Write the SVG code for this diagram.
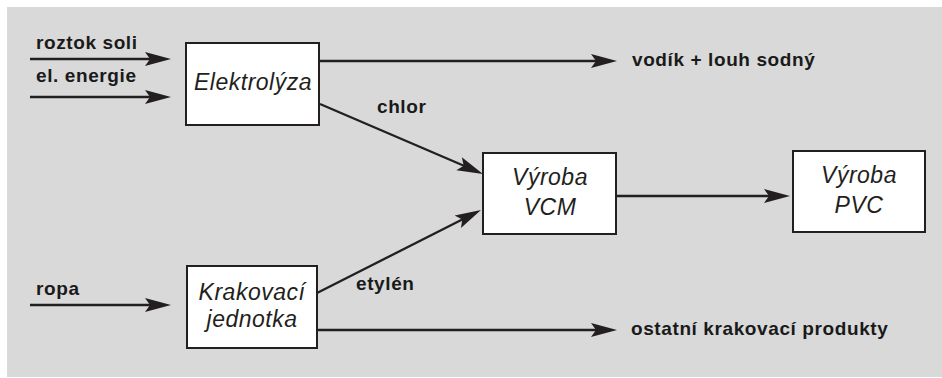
<svg xmlns="http://www.w3.org/2000/svg" width="942" height="378" viewBox="0 0 942 378">
<defs>
<marker id="ah" markerUnits="userSpaceOnUse" markerWidth="30" markerHeight="16" refX="16" refY="7" orient="auto" overflow="visible">
<path d="M0,0 L26,7 L0,14 L5,7 z" fill="#231f20"/>
</marker>
<style>
.bg{fill:#d9d9d9}
.box{fill:#ffffff;stroke:#231f20;stroke-width:2}
.ln{stroke:#231f20;stroke-width:2.3;fill:none;marker-end:url(#ah)}
.lb{font-family:"Liberation Sans",Arial,sans-serif;font-weight:bold;font-size:19px;letter-spacing:0.6px;fill:#1a1a1a}
.nt{font-family:"Liberation Sans",Arial,sans-serif;font-style:italic;font-size:23px;letter-spacing:0.5px;fill:#231f20;text-anchor:middle}
</style>
</defs>
<rect x="0" y="0" width="942" height="378" fill="#ffffff"/>
<rect class="bg" x="7" y="7" width="935" height="370"/>
<g id="connectors">
<line class="ln" x1="30" y1="59" x2="161" y2="59"/>
<line class="ln" x1="30" y1="97" x2="161" y2="97"/>
<line class="ln" x1="30" y1="305" x2="161" y2="305"/>
<line class="ln" x1="319" y1="61" x2="607" y2="61"/>
<line class="ln" x1="320" y1="104" x2="473.8" y2="170.05"/>
<line class="ln" x1="317" y1="293" x2="472.1" y2="214.5"/>
<line class="ln" x1="616" y1="196" x2="780" y2="196"/>
<line class="ln" x1="317" y1="330" x2="607" y2="330"/>
</g>
<g id="labels">
<text class="lb" x="36" y="49">roztok soli</text>
<text class="lb" x="36" y="82">el. energie</text>
<text class="lb" x="36" y="295">ropa</text>
<text class="lb" x="632" y="66">vodík + louh sodný</text>
<text class="lb" x="377" y="113">chlor</text>
<text class="lb" x="356" y="290">etylén</text>
<text class="lb" x="631" y="335">ostatní krakovací produkty</text>
</g>
<g id="elektrolyza">
<rect class="box" x="186" y="43" width="133" height="82"/>
<text class="nt" x="253" y="90">Elektrolýza</text>
</g>
<g id="krakovaci">
<rect class="box" x="187" y="266" width="130" height="82"/>
<text class="nt" x="252" y="300">Krakovací</text>
<text class="nt" x="252" y="327">jednotka</text>
</g>
<g id="vcm">
<rect class="box" x="483" y="153" width="133" height="81"/>
<text class="nt" x="550" y="185">Výroba</text>
<text class="nt" x="550" y="215">VCM</text>
</g>
<g id="pvc">
<rect class="box" x="793" y="151" width="132" height="81"/>
<text class="nt" x="859" y="183">Výroba</text>
<text class="nt" x="859" y="213">PVC</text>
</g>
</svg>
